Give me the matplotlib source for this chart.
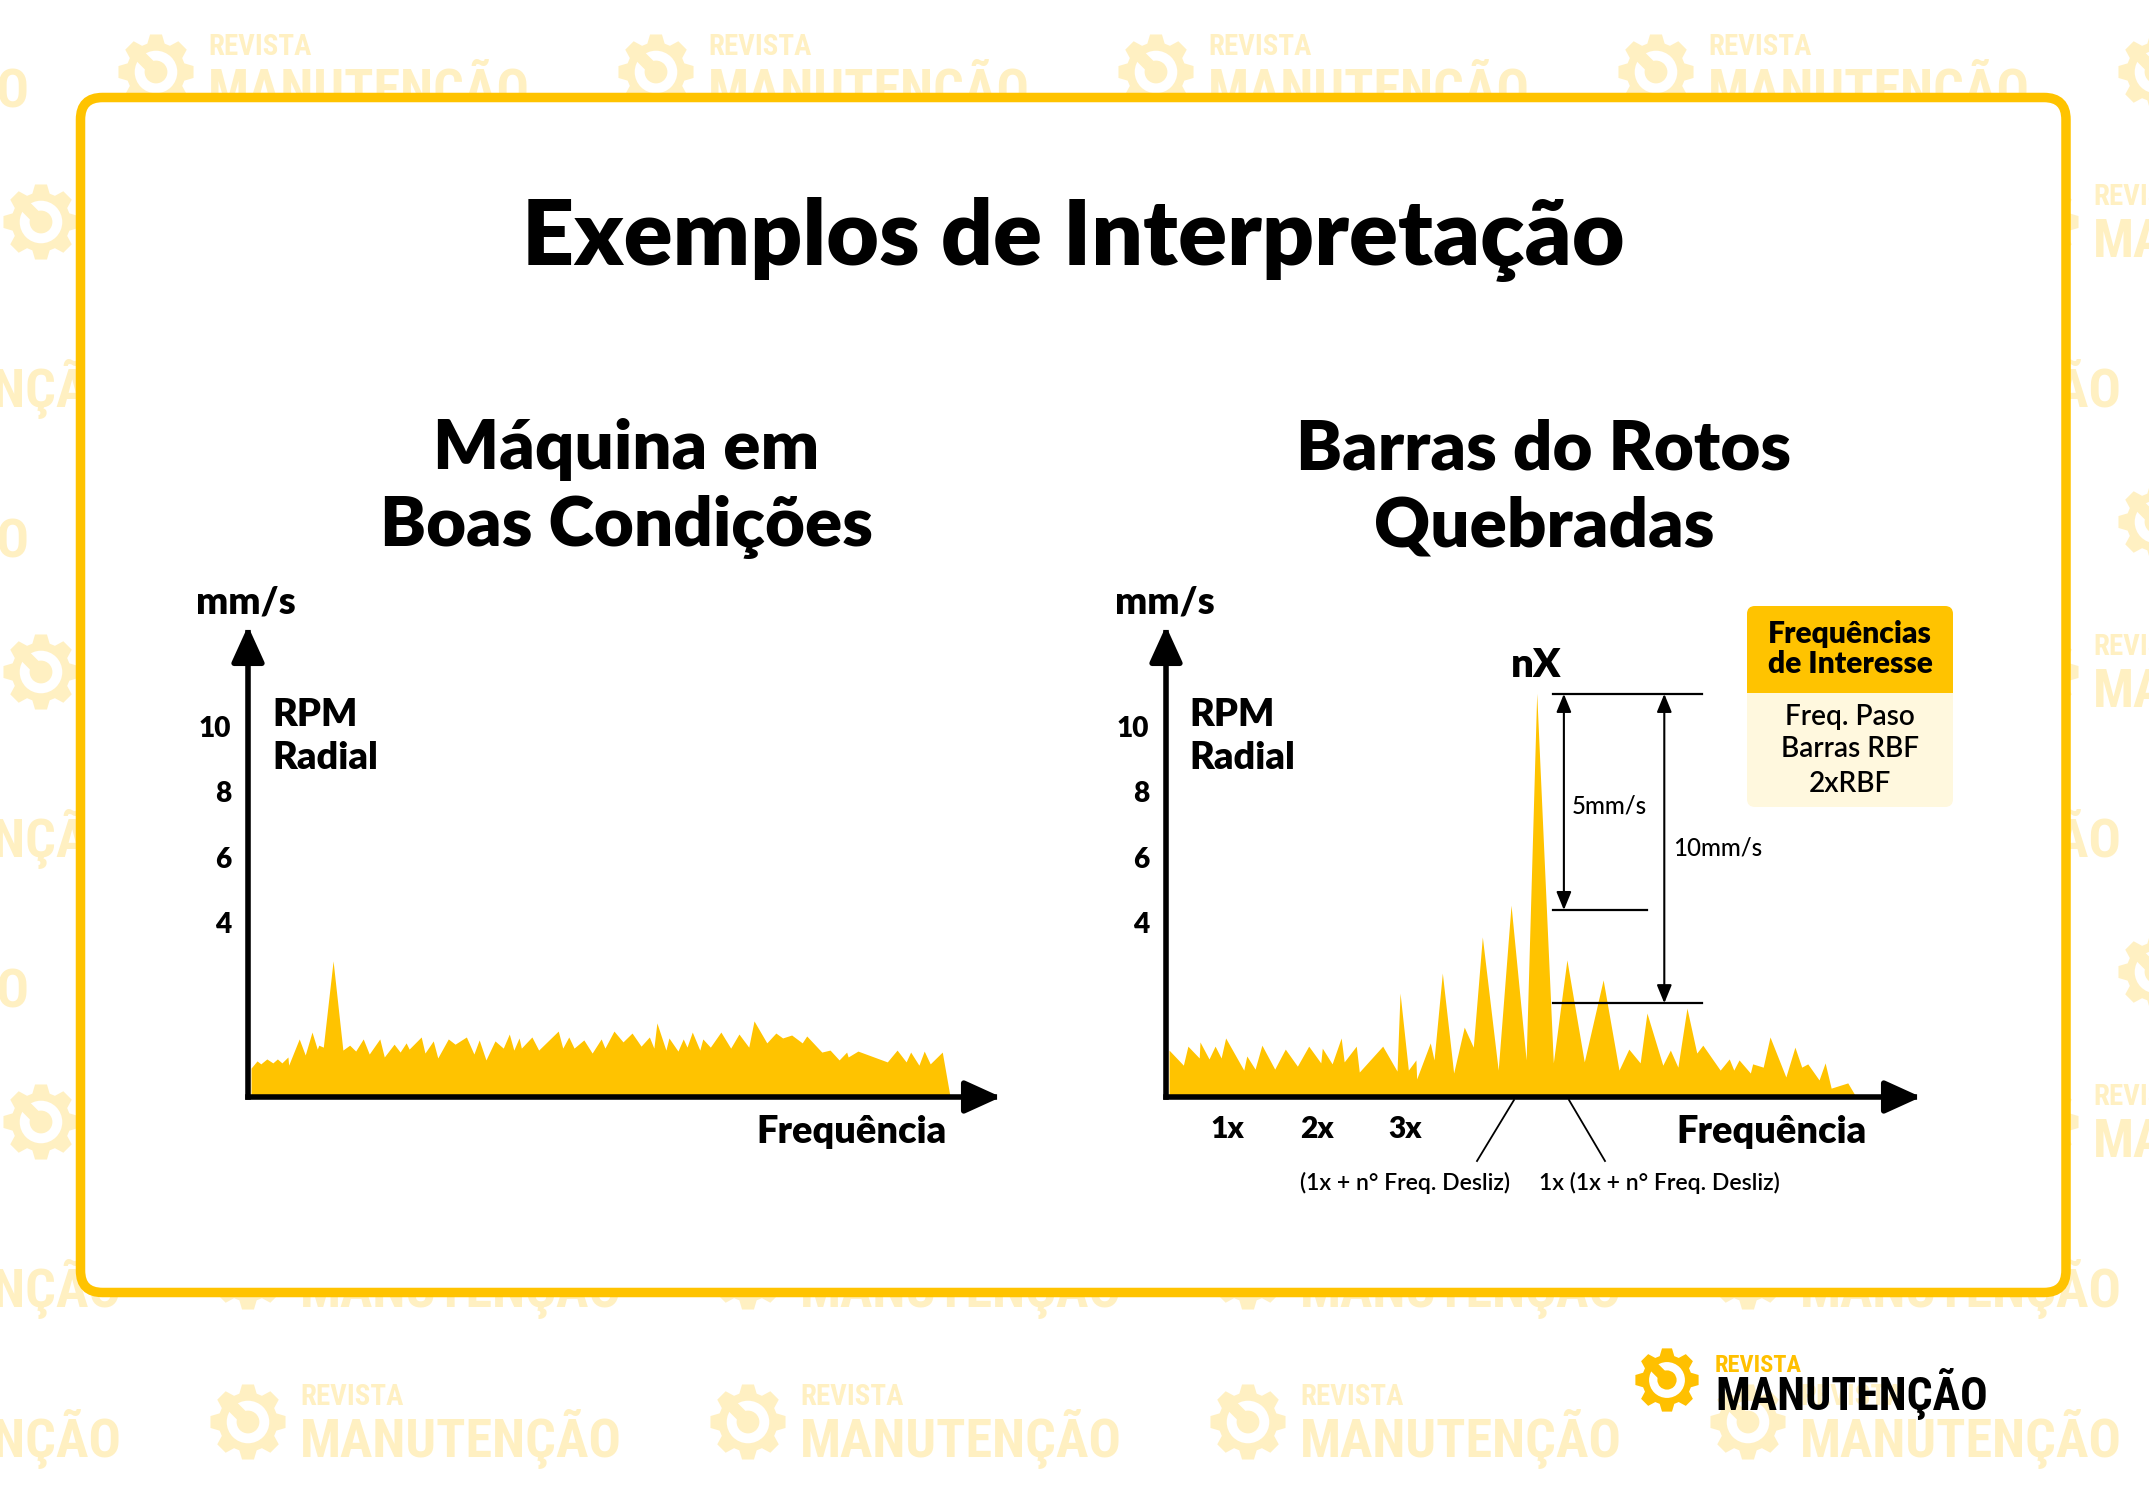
import numpy as np
import matplotlib.pyplot as plt
from matplotlib import font_manager
from matplotlib.patches import FancyBboxPatch, FancyArrowPatch, Polygon, Circle, Rectangle

plt.rcParams["font.family"] = ["Lato", "DejaVu Sans"]

W, H = 2149, 1500
YELLOW = "#FFC300"
PALE = "#FFF8DE"
MARK = "#FFF0C2"
PT = 0.72  # px -> pt at dpi 100

# ---- data -------------------------------------------------------------
amp_ticks = [4, 6, 8, 10]
harmonic_pos = [8.1, 20.0, 31.7]
harmonic_labels = ["1x", "2x", "3x"]

good_freq = [0.4, 1.2, 1.7, 2.5, 3.3, 3.9, 4.5, 5.3, 5.4, 6.8,
             7.6, 8.5, 9.2, 9.4, 10.0, 11.3, 12.6, 13.5, 14.3, 15.3,
             16.1, 17.5, 18.1, 19.4, 20.2, 21.0, 21.4, 23.0, 23.5, 24.6,
             25.2, 26.6, 27.5, 29.0, 30.0, 30.7, 31.6, 32.8, 33.9, 34.7,
             35.3, 36.0, 36.3, 37.7, 38.6, 41.2, 41.8, 42.6, 43.3, 44.6,
             45.7, 46.9, 47.4, 48.6, 49.8, 51.0, 52.2, 53.3, 53.9, 54.3,
             55.5, 55.9, 57.1, 57.8, 58.3, 59.0, 60.0, 60.4, 61.4, 62.8,
             64.1, 65.2, 66.5, 67.2, 68.9, 70.1, 71.0, 72.2, 73.6, 74.2,
             76.2, 77.3, 78.5, 79.5, 79.7, 81.0, 84.9, 86.2, 87.4, 88.0,
             89.1, 89.8, 90.6, 92.2, 93.2]
good_amp = [-0.43, -0.21, -0.30, -0.15, -0.27, -0.15, -0.27, -0.09, -0.34, 0.46,
            -0.03, 0.67, 0.15, 0.27, 0.21, 2.84, 0.12, 0.27, 0.09, 0.46,
            0.00, 0.46, -0.09, 0.30, 0.06, 0.34, 0.15, 0.52, 0.03, 0.40,
            -0.12, 0.46, 0.30, 0.52, 0.00, 0.43, -0.18, 0.40, 0.18, 0.61,
            0.12, 0.49, 0.18, 0.52, 0.12, 0.70, 0.18, 0.52, 0.18, 0.43,
            0.03, 0.46, 0.18, 0.70, 0.37, 0.64, 0.24, 0.52, 0.18, 0.95,
            0.12, 0.49, 0.09, 0.46, 0.21, 0.67, 0.12, 0.46, 0.21, 0.67,
            0.18, 0.61, 0.21, 1.01, 0.34, 0.64, 0.49, 0.58, 0.34, 0.55,
            0.06, 0.12, -0.18, 0.06, -0.09, 0.09, -0.24, 0.12, -0.24, 0.06,
            -0.34, 0.09, -0.30, 0.06, -1.25]

broken_freq = [0.4, 2.3, 2.9, 4.4, 4.5, 5.7, 6.5, 7.3, 7.9, 10.3,
               10.7, 11.8, 12.7, 14.4, 15.8, 17.4, 18.9, 20.5, 20.7, 22.0,
               23.2, 23.6, 25.2, 25.6, 28.7, 30.6, 31.0, 32.1, 33.1, 33.2,
               35.0, 35.5, 36.6, 38.1, 39.5, 40.7, 41.9, 44.0, 45.7, 47.7,
               49.1, 51.3, 53.1, 55.4, 57.9, 60.0, 61.3, 62.8, 63.7, 65.8,
               66.8, 67.8, 69.0, 70.3, 71.1, 73.4, 74.6, 75.2, 75.9, 77.4,
               77.7, 79.1, 80.0, 82.1, 83.3, 84.2, 85.0, 86.5, 87.3, 88.1,
               90.3, 91.4]
broken_amp = [0.12, -0.34, 0.24, -0.12, 0.37, -0.15, 0.24, -0.12, 0.49, -0.49,
              -0.06, -0.46, 0.27, -0.46, 0.15, -0.37, 0.24, -0.27, 0.18, -0.30,
              0.49, -0.24, 0.24, -0.55, 0.24, -0.52, 1.86, -0.49, -0.18, -0.76,
              0.34, -0.18, 2.47, -0.58, 0.82, 0.21, 3.57, -0.49, 4.54, -0.18,
              11.0, -0.27, 2.87, -0.24, 2.26, -0.49, 0.15, -0.27, 1.25, -0.34,
              0.12, -0.40, 1.40, 0.03, 0.27, -0.49, -0.15, -0.49, -0.18, -0.58,
              -0.30, -0.40, 0.52, -0.70, 0.21, -0.40, -0.30, -0.79, -0.27, -1.04,
              -0.88, -1.31]

# dimension marks on the broken-bar chart (mm/s levels)
level_top, level_mid, level_low = 10.98, 4.39, 1.55

legend_head = ["Frequências", "de Interesse"]
legend_items = ["Freq. Paso", "Barras RBF", "2xRBF"]

YBOT, YTOP = -1.31, 13.05

# ---- figure -----------------------------------------------------------
fig = plt.figure(figsize=(W / 100, H / 100), dpi=100)
bg = fig.add_axes([0, 0, 1, 1], zorder=0)
bg.set_xlim(0, W)
bg.set_ylim(H, 0)
bg.axis("off")

names = {f.name for f in font_manager.fontManager.ttflist}
COND = next((n for n in ["Liberation Sans Narrow", "Roboto Condensed", "Open Sans Condensed"]
             if n in names), "DejaVu Sans")
HEAVY = "heavy"


def fitted_size(text, width, **kw):
    t = fig.text(0, 0, text, fontsize=20, **kw)
    w = t.get_window_extent(renderer=fig.canvas.get_renderer()).width
    t.remove()
    return 20 * width / w


def gear(ax, cx, cy, r, color, z):
    pts = []
    for k in range(8):
        a = np.deg2rad(90 + 45 * k)
        for da, rr in ((-17, 0.78), (-9, 1.0), (9, 1.0), (17, 0.78)):
            t = a + np.deg2rad(da)
            pts.append((cx + rr * r * np.cos(t), cy - rr * r * np.sin(t)))
    ax.add_patch(Polygon(pts, closed=True, fc=color, ec="none", zorder=z))
    ax.add_patch(Circle((cx, cy), 0.56 * r, fc="white", ec="none", zorder=z))
    ax.add_patch(Circle((cx, cy), 0.3 * r, fc=color, ec="none", zorder=z))
    d = np.array([-1.0, -1.0]) / np.sqrt(2)
    n = np.array([1.0, -1.0]) / np.sqrt(2)
    p0 = np.array([cx, cy])
    p1 = p0 + d * 0.82 * r
    w = 0.16 * r
    ax.add_patch(Polygon([p0 + n * w, p1 + n * w, p1 - n * w, p0 - n * w],
                         fc=color, ec="none", zorder=z))


# watermark tiles (only the ones that peek out around the frame)
kw_c = dict(family=COND, fontweight="bold")
s_rev = fitted_size("REVISTA", 103, **kw_c)
s_man = fitted_size("MANUTENÇÃO", 322, **kw_c)
row_y = [72, 222, 372, 522, 672, 822, 972, 1122, 1272, 1422]
row_x = [156, 41, 248, 156, 41, 248, 156, 41, 248, 248]
for gy, gx0 in zip(row_y, row_x):
    for gx in np.arange(gx0 - 500, W + 200, 500):
        if gx - 40 > 88 and gx + 380 < 2058 and gy - 45 > 105 and gy + 40 < 1285:
            continue
        gear(bg, gx, gy, 38, MARK, 0.5)
        bg.text(gx + 52, gy - 17, "REVISTA", fontsize=s_rev, color=MARK,
                va="baseline", zorder=0.6, **kw_c)
        bg.text(gx + 52, gy + 35, "MANUTENÇÃO", fontsize=s_man, color=MARK,
                va="baseline", zorder=0.6, **kw_c)

# frame
bg.add_patch(FancyBboxPatch((80.5, 97.5), 2066 - 80.5, 1292.5 - 97.5,
                            boxstyle="round,pad=0,rounding_size=22",
                            fc="white", ec=YELLOW, lw=9.5 * PT, zorder=1))

# titles
bg.text(1073, 265, "Exemplos de Interpretação", ha="center", va="baseline",
        fontsize=91 * PT, fontweight=HEAVY, zorder=3)
for cx, lines in ((626, ["Máquina em", "Boas Condições"]),
                  (1544, ["Barras do Rotos", "Quebradas"])):
    for yb, s in zip((469, 546), lines):
        bg.text(cx, yb, s, ha="center", va="baseline", fontsize=69 * PT,
                fontweight=HEAVY, zorder=3)


def spectrum_axes(x0, x1, freq, amp):
    ax = fig.add_axes([x0 / W, 1 - 1097 / H, (x1 - x0) / W, (1097 - 626) / H], zorder=2)
    ax.set_xlim(0, 100)
    ax.set_ylim(YBOT, YTOP)
    ax.patch.set_alpha(0)
    for sp in ax.spines.values():
        sp.set_visible(False)
    ax.fill_between(freq, amp, YBOT, color=YELLOW, lw=0, zorder=2)
    ax.set_xticks([])
    ax.set_yticks(amp_ticks, [str(t) for t in amp_ticks], fontweight=HEAVY, fontsize=28 * PT)
    ax.tick_params(axis="y", length=0, pad=12)
    for end in [(100, YBOT), (0, YTOP)]:
        ax.add_patch(FancyArrowPatch((0, YBOT), end,
                                     arrowstyle="-|>,head_length=22,head_width=10",
                                     mutation_scale=1, lw=4, color="black",
                                     shrinkA=0, shrinkB=0, clip_on=False,
                                     capstyle="projecting", joinstyle="round", zorder=5))
    return ax


ax_l = spectrum_axes(248, 1001, good_freq, good_amp)
ax_r = spectrum_axes(1166, 1921, broken_freq, broken_amp)
ax_r.set_xticks(harmonic_pos, harmonic_labels, fontweight=HEAVY, fontsize=30 * PT)
ax_r.tick_params(axis="x", length=0, pad=13)

# dimension lines on broken-bar chart
for y, x_end in ((level_top, 71.0), (level_mid, 63.7), (level_low, 71.0)):
    ax_r.plot([51.3, x_end], [y, y], color="black", lw=1.6, clip_on=False, zorder=4)
for x, y0 in ((52.7, level_mid), (66.0, level_low)):
    ax_r.add_patch(FancyArrowPatch((x, y0), (x, level_top),
                                   arrowstyle="<|-|>,head_length=11,head_width=4.5",
                                   mutation_scale=1, lw=1.5, color="black",
                                   shrinkA=0, shrinkB=0, clip_on=False, zorder=4))

# chart labels
for x0, xr, xf in ((196, 272, 947), (1115, 1189, 1867)):
    bg.text(x0, 613, "mm/s", fontsize=38 * PT, fontweight=HEAVY, va="baseline", zorder=3)
    bg.text(xr, 726, "RPM", fontsize=38 * PT, fontweight=HEAVY, va="baseline", zorder=3)
    bg.text(xr, 769, "Radial", fontsize=38 * PT, fontweight=HEAVY, va="baseline", zorder=3)
    bg.text(xf, 1143, "Frequência", fontsize=38 * PT, fontweight=HEAVY, ha="right",
            va="baseline", zorder=3)

bg.text(1536, 677, "nX", fontsize=40 * PT, fontweight=HEAVY, ha="center", va="baseline", zorder=3)
bg.text(1572, 813, "5mm/s", fontsize=24 * PT, fontweight="medium", va="baseline", zorder=3)
bg.text(1673, 856, "10mm/s", fontsize=24 * PT, fontweight="medium", va="baseline", zorder=3)

bg.plot([1514, 1477], [1100, 1161], color="black", lw=1.3, zorder=3)
bg.plot([1569, 1605], [1100, 1161], color="black", lw=1.3, zorder=3)
bg.text(1300, 1190, "(1x + n° Freq. Desliz)", fontsize=23 * PT, fontweight="semibold",
        va="baseline", zorder=3)
bg.text(1539, 1190, "1x (1x + n° Freq. Desliz)", fontsize=23 * PT, fontweight="semibold",
        va="baseline", zorder=3)

# legend box
bg.add_patch(FancyBboxPatch((1747, 606), 206, 201, boxstyle="round,pad=0,rounding_size=8",
                            fc=PALE, ec="none", zorder=2))
bg.add_patch(FancyBboxPatch((1747, 606), 206, 87, boxstyle="round,pad=0,rounding_size=8",
                            fc=YELLOW, ec="none", zorder=2))
bg.add_patch(Rectangle((1747, 670), 206, 23, fc=YELLOW, ec="none", zorder=2))
for yb, s in zip((643, 673), legend_head):
    bg.text(1850, yb, s, ha="center", va="baseline", fontsize=30 * PT, fontweight=HEAVY, zorder=3)
for yb, s in zip((725, 757, 792), legend_items):
    bg.text(1850, yb, s, ha="center", va="baseline", fontsize=28 * PT, fontweight="semibold", zorder=3)

# logo
gear(bg, 1667, 1380, 32, "#FFC000", 3)
bg.text(1715, 1372, "REVISTA", fontsize=fitted_size("REVISTA", 87, **kw_c), color="#FFC000",
        va="baseline", zorder=3, **kw_c)
bg.text(1715, 1410, "MANUTENÇÃO", fontsize=fitted_size("MANUTENÇÃO", 273, **kw_c),
        color="black", va="baseline", zorder=3, **kw_c)

fig.savefig("out.png", dpi=100)
